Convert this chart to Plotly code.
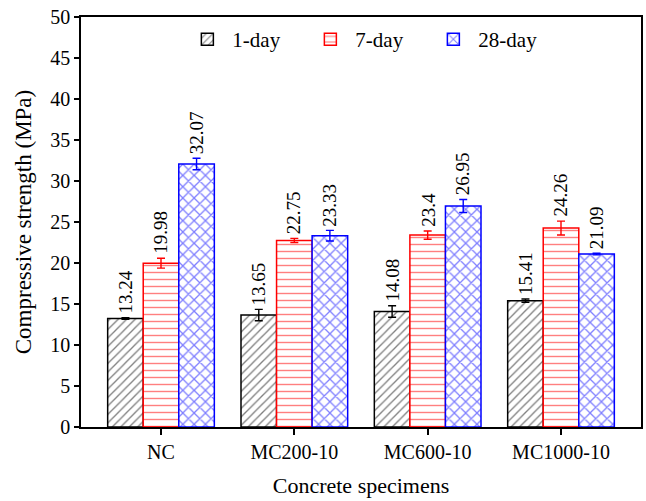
import plotly.graph_objects as go

categories = ["NC", "MC200-10", "MC600-10", "MC1000-10"]
series_names = ["1-day", "7-day", "28-day"]
day1 = [13.24, 13.65, 14.08, 15.41]
day7 = [19.98, 22.75, 23.4, 24.26]
day28 = [32.07, 23.33, 26.95, 21.09]
err1 = [0.1, 0.7, 0.7, 0.2]
err7 = [0.6, 0.25, 0.5, 0.85]
err28 = [0.7, 0.65, 0.8, 0.1]
y_ticks = [0, 5, 10, 15, 20, 25, 30, 35, 40, 45, 50]

colors = ["#000000", "#ff0000", "#0000ff"]
shapes = ["/", "-", "x"]
pat_sizes = [6, 7, 8]
pat_solid = [0.22, 0.2, 0.3]
values = [day1, day7, day28]
errors = [err1, err7, err28]

FONT = "Liberation Serif"

fig = go.Figure()
for name, vals, errs, col, shp, ps, sol in zip(series_names, values, errors, colors,
                                                 shapes, pat_sizes, pat_solid):
    fig.add_trace(go.Bar(
        x=categories, y=vals, name=name,
        marker=dict(color="white",
                    line=dict(color=col, width=1.5),
                    pattern=dict(shape=shp, fgcolor=col, bgcolor="white",
                                 size=ps, solidity=sol, fillmode="overlay")),
        error_y=dict(type="data", array=errs, visible=True, color=col,
                     thickness=1.4, width=4),
    ))

bar_w = 0.8 / 3
annotations = []
for si, (vals, errs) in enumerate(zip(values, errors)):
    off = (si - 1) * bar_w
    for ci, (v, e) in enumerate(zip(vals, errs)):
        annotations.append(dict(
            x=ci + off, y=v + e, xref="x", yref="y",
            text=f"{v:g}", textangle=-90, showarrow=False,
            xanchor="center", yanchor="bottom", yshift=2,
            font=dict(family=FONT, size=19, color="black")))

fig.update_layout(
    width=646, height=501, autosize=False,
    margin=dict(l=81, r=5, t=17, b=74),
    plot_bgcolor="white", paper_bgcolor="white",
    barmode="group", bargap=0.2, bargroupgap=0,
    font=dict(family=FONT, size=20, color="black"),
    annotations=annotations,
    legend=dict(orientation="h", x=0.181, xanchor="left", y=0.995, yanchor="top",
                font=dict(family=FONT, size=21), bgcolor="rgba(0,0,0,0)",
                entrywidth=68, itemwidth=40),
    xaxis=dict(range=[-0.6, 3.6], showline=True, mirror=True, linecolor="black",
               linewidth=1.5, ticks="outside", ticklen=6, tickwidth=1.5,
               tickcolor="black", showgrid=False, automargin=False,
               tickfont=dict(family=FONT, size=20),
               title=dict(text="Concrete specimens", font=dict(family=FONT, size=22), standoff=16)),
    yaxis=dict(range=[0, 50], tickvals=y_ticks, showline=True, mirror=True,
               linecolor="black", linewidth=1.5, ticks="outside", ticklen=5,
               tickwidth=1.5, tickcolor="black", showgrid=False, zeroline=False,
               automargin=False,
               tickfont=dict(family=FONT, size=20),
               title=dict(text="Compressive strength (MPa)", font=dict(family=FONT, size=23), standoff=12)),
)

fig.write_html("out.html", config={"displayModeBar": False},
               post_script="document.body.style.margin='0';document.body.style.overflow='hidden';")
